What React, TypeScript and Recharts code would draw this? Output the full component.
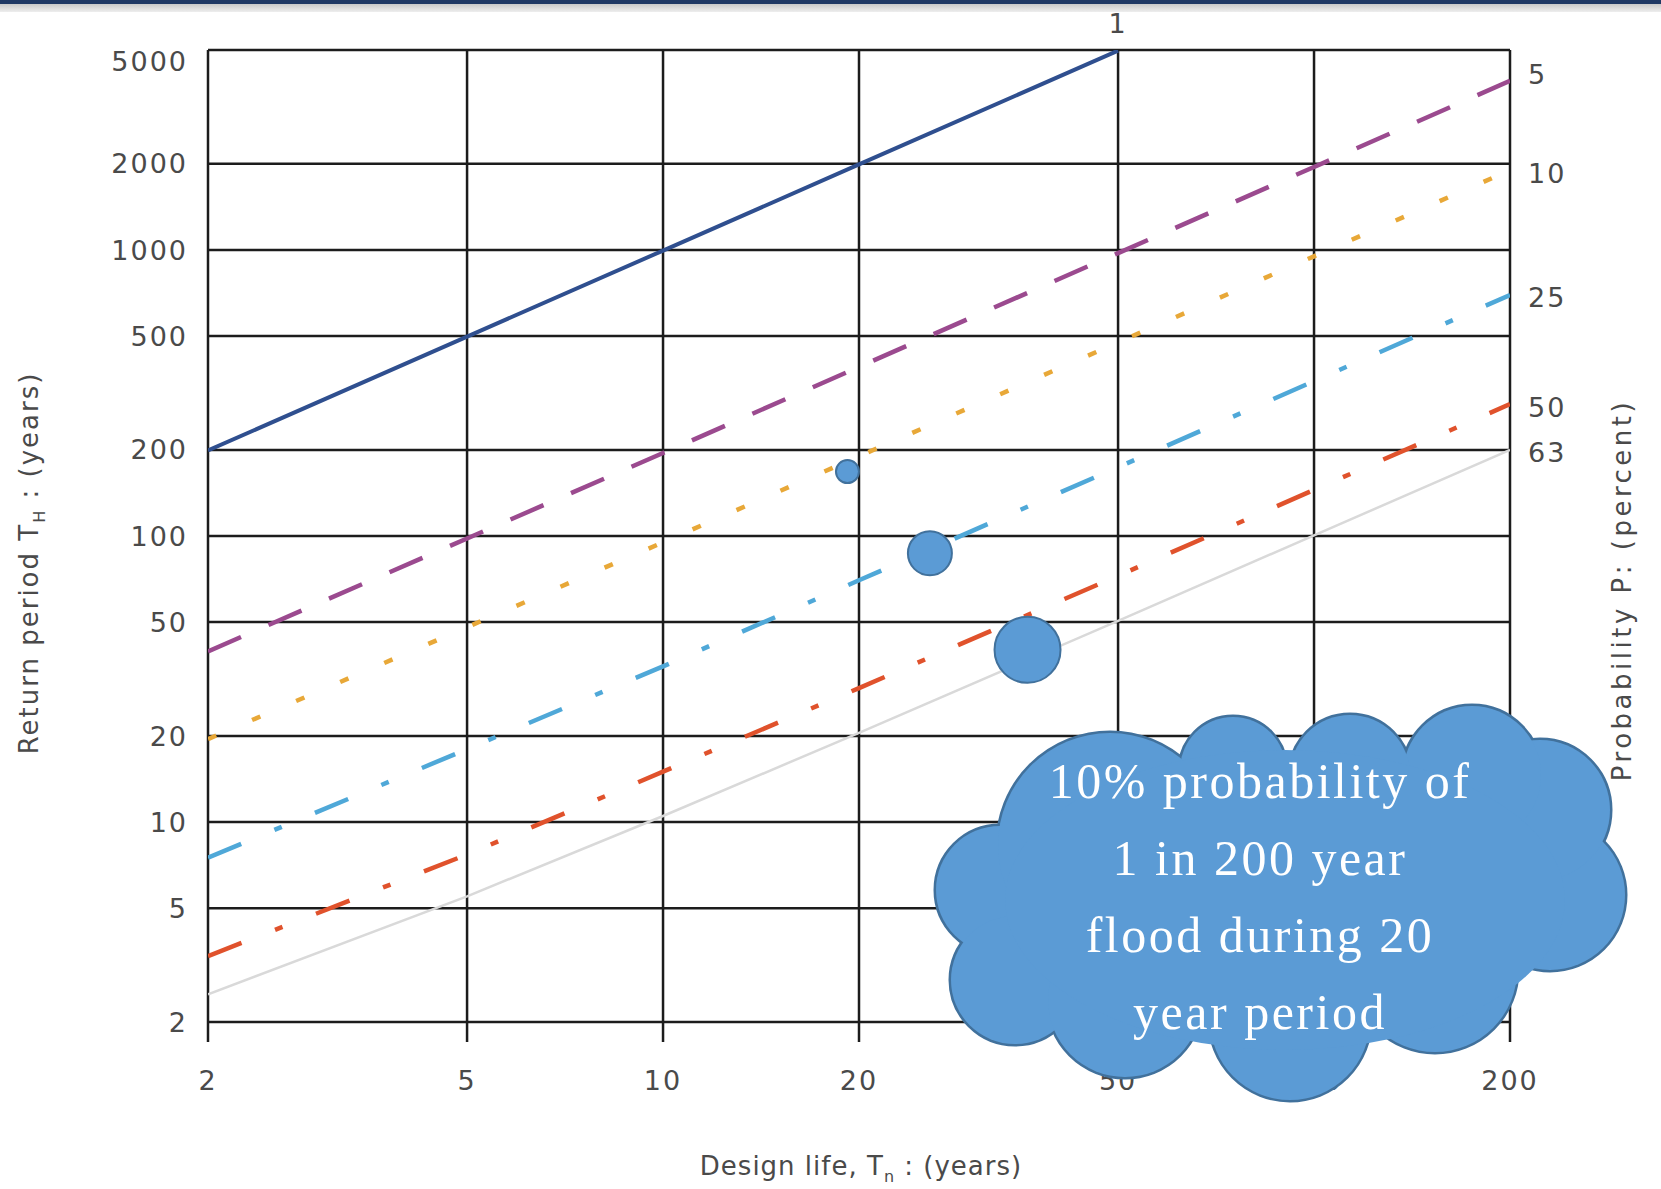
import { LineChart, Line, XAxis, YAxis, CartesianGrid, ReferenceDot } from "recharts"

// design life n (years) at which each line was read
const designLife = [2, 5, 10, 20, 50, 100, 200]

// return period T (years)
const p1Values = [199, 498, 995, 1990, 4975]
const p5Values = [39.5, 98, 195, 390, 975, 1950, 3900]
const p10Values = [19.5, 48, 95, 190, 475, 950, 1900]
const p25Values = [7.5, 18, 35, 70, 174, 348, 696]
const p50Values = [3.4, 7.7, 15, 29.4, 72.6, 145, 289]
const p63Values = [2.5, 5.5, 10.5, 20.5, 50.5, 100.5, 200]

const xTicks = [2, 5, 10, 20, 50, 100, 200]
const yTicks = [2, 5, 10, 20, 50, 100, 200, 500, 1000, 2000, 5000]

// probability labels on the right edge (percent) and where they sit
const probLabels = ["5", "10", "25", "50", "63"]
const probLabelT = [4100, 1850, 680, 282, 196]

// thought-bubble dots leading to the callout (n, T)
const bubbleN = [19.2, 25.7, 36.3]
const bubbleT = [168, 87, 40]

const calloutLines = ["10% probability of", "1 in 200 year", "flood during 20", "year period"]

const toPoints = (values: number[]) => values.map((t, i) => ({ n: designLife[i], t }))

const W = 1661
const H = 1189
const axisFont = "'DejaVu Sans', Verdana, sans-serif"
const textGray = "#4a4a4a"
const bubbleR = [11.5, 22, 33]
const cloudFill = "#5b9bd5"
const cloudStroke = "#41719c"

// cloud outline built from overlapping circles (pixel space)
const cloudBumps = [
  [1000, 890, 64],
  [1015, 980, 64],
  [1125, 1000, 77],
  [1290, 1020, 80],
  [1435, 970, 82],
  [1550, 895, 75],
  [1540, 810, 70],
  [1472, 775, 69],
  [1350, 775, 60],
  [1233, 770, 53],
  [1110, 845, 112],
]

function Cloud() {
  return (
    <g>
      {cloudBumps.map(([cx, cy, r], i) => (
        <circle key={"s" + i} cx={cx} cy={cy} r={r} fill={cloudStroke} stroke={cloudStroke} strokeWidth={5} />
      ))}
      {cloudBumps.map(([cx, cy, r], i) => (
        <circle key={"f" + i} cx={cx} cy={cy} r={r} fill={cloudFill} />
      ))}
      <ellipse cx={1285} cy={900} rx={280} ry={150} fill={cloudFill} />
      {calloutLines.map((line, i) => (
        <text
          key={line}
          x={1260}
          y={798 + i * 77}
          textAnchor="middle"
          fill="#ffffff"
          fontFamily="'Liberation Serif', 'DejaVu Serif', serif"
          fontSize={50}
          letterSpacing={2.5}
        >
          {line}
        </text>
      ))}
    </g>
  )
}

const tickStyle = { fontSize: 27, fill: textGray, fontFamily: axisFont, letterSpacing: 2 }

// top label sits a little lower than its gridline in the original
function YTick(props: any) {
  const { x, y, payload } = props
  const shift = payload.value === 5000 ? 11 : 0
  return (
    <text x={x} y={y + shift} dy="0.355em" textAnchor="end" {...tickStyle}>
      {payload.value}
    </text>
  )
}

export default function App() {
  const lineCommon = { type: "linear" as const, dataKey: "t", dot: false, isAnimationActive: false }

  return (
    <div style={{ position: "absolute", left: 0, top: 0, width: W, height: H, background: "#fff" }}>
      <LineChart width={W} height={H} margin={{ top: 50, right: 151, bottom: 107, left: 108 }}>
        <CartesianGrid stroke="#1c1c1c" strokeWidth={2.5} />
        <XAxis
          dataKey="n"
          type="number"
          scale="log"
          domain={[2, 200]}
          ticks={xTicks}
          allowDataOverflow
          axisLine={false}
          tickLine={{ stroke: "#1c1c1c", strokeWidth: 2.5 }}
          tickSize={20}
          tickMargin={29}
          height={60}
          tick={tickStyle}
        />
        <YAxis
          type="number"
          scale="log"
          domain={[2, 5000]}
          ticks={yTicks}
          allowDataOverflow
          axisLine={false}
          tickLine={false}
          tickSize={0}
          tickMargin={20}
          width={100}
          tick={<YTick />}
        />
        <Line {...lineCommon} data={toPoints(p63Values)} stroke="#d9d9d9" strokeWidth={2.5} />
        <Line {...lineCommon} data={toPoints(p50Values)} stroke="#e0522c" strokeWidth={4.5} strokeDasharray="36 36 8 36" />
        <Line {...lineCommon} data={toPoints(p25Values)} stroke="#4fa8d8" strokeWidth={4.5} strokeDasharray="36 36 8 36" />
        <Line {...lineCommon} data={toPoints(p10Values)} stroke="#e8a838" strokeWidth={4.5} strokeDasharray="9 39" />
        <Line {...lineCommon} data={toPoints(p5Values)} stroke="#9b4a8f" strokeWidth={4.5} strokeDasharray="36 30" />
        <Line {...lineCommon} data={toPoints(p1Values)} stroke="#2f4f8f" strokeWidth={4} />
        {probLabels.map((p, i) => (
          <ReferenceDot
            key={p}
            x={200}
            y={probLabelT[i]}
            r={0}
            ifOverflow="visible"
            label={{ value: p, position: "right", offset: 18, ...tickStyle }}
          />
        ))}
        <ReferenceDot
          x={50}
          y={5000}
          r={0}
          ifOverflow="visible"
          label={{ value: "1", position: "top", offset: 17, ...tickStyle }}
        />
        {bubbleN.map((n, i) => (
          <ReferenceDot
            key={n}
            x={n}
            y={bubbleT[i]}
            r={bubbleR[i]}
            fill={cloudFill}
            stroke={cloudStroke}
            strokeWidth={2}
            ifOverflow="visible"
          />
        ))}
      </LineChart>
      <svg width={W} height={H} style={{ position: "absolute", left: 0, top: 0, pointerEvents: "none" }}>
        <defs>
          <linearGradient id="barGrad" x1="0" y1="0" x2="0" y2="1">
            <stop offset="0" stopColor="#c8c8c8" />
            <stop offset="1" stopColor="#eeeeee" />
          </linearGradient>
        </defs>
        <rect x={0} y={0} width={W} height={4} fill="#1f3864" />
        <rect x={0} y={4} width={W} height={8} fill="url(#barGrad)" />
        <text x={861} y={1175} textAnchor="middle" fill={textGray} fontFamily={axisFont} fontSize={26} letterSpacing={1}>
          Design life, T<tspan fontSize={16} dy={7}>n</tspan>
          <tspan dy={-7}> : (years)</tspan>
        </text>
        <text
          transform="translate(38, 563) rotate(-90)"
          textAnchor="middle"
          fill={textGray}
          fontFamily={axisFont}
          fontSize={26}
          letterSpacing={2}
        >
          Return period T<tspan fontSize={16} dy={7}>H</tspan>
          <tspan dy={-7}> : (years)</tspan>
        </text>
        <text
          transform="translate(1631, 590) rotate(-90)"
          textAnchor="middle"
          fill={textGray}
          fontFamily={axisFont}
          fontSize={26}
          letterSpacing={3.5}
        >
          Probability P: (percent)
        </text>
        <Cloud />
      </svg>
    </div>
  )
}
